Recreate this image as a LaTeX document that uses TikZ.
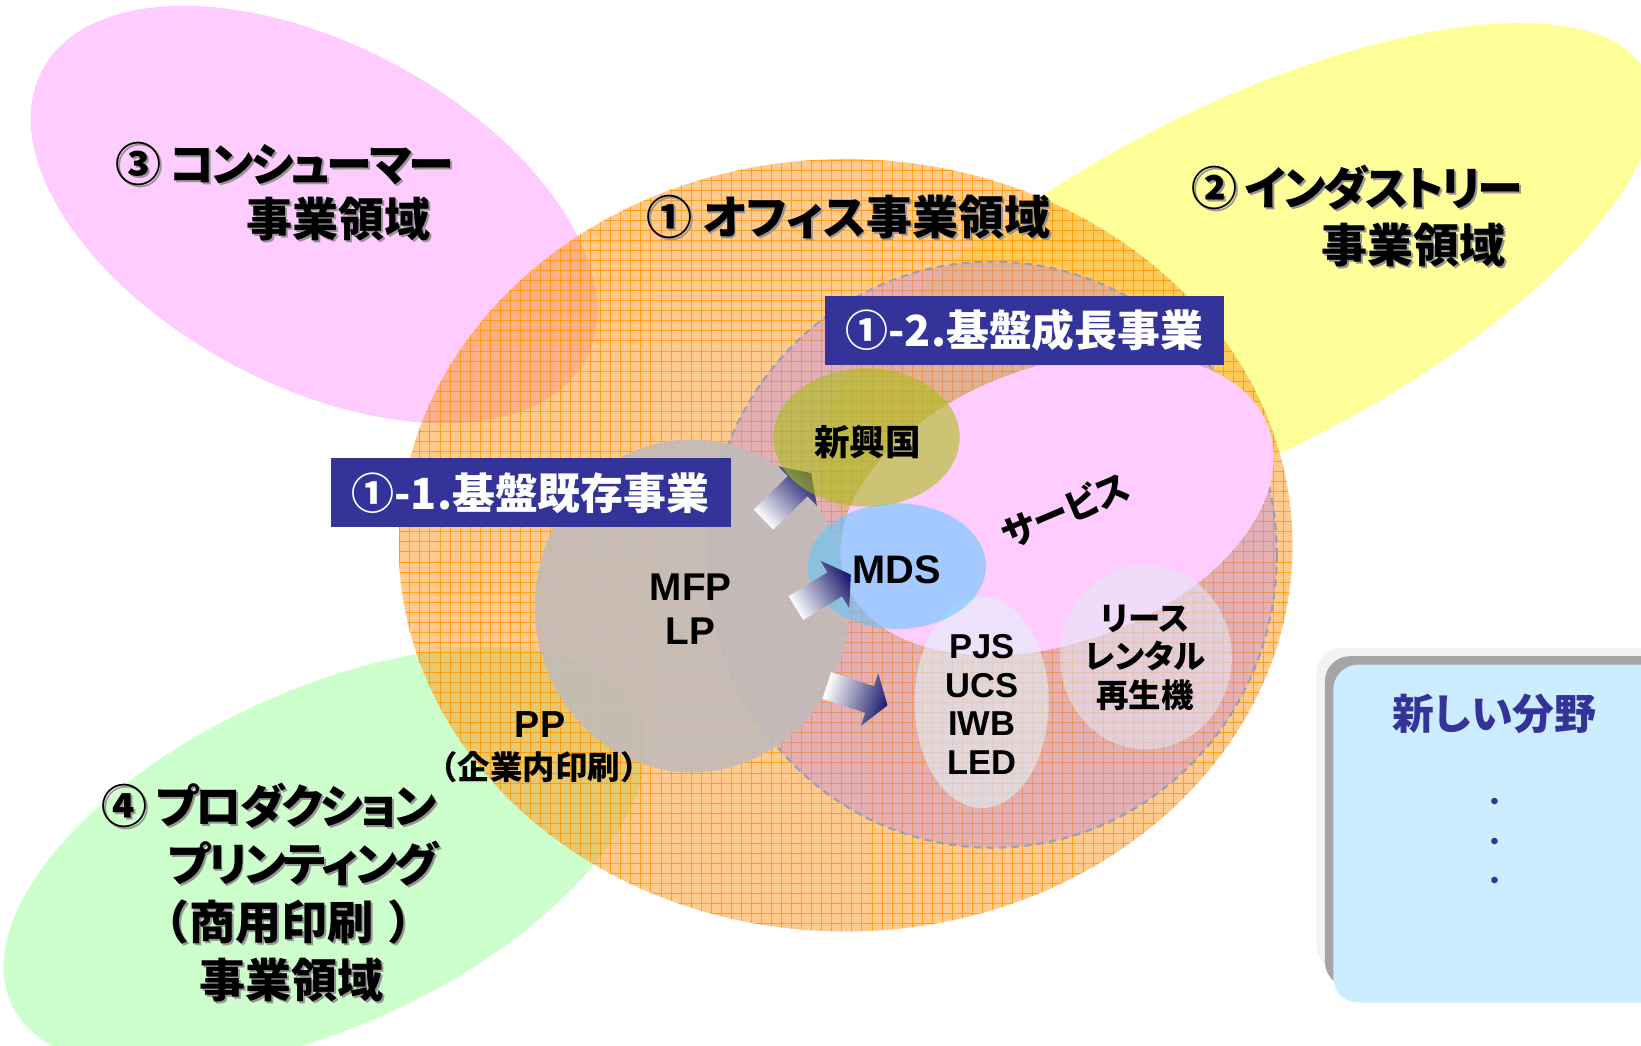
\documentclass[tikz,border=0pt]{standalone}
\usepackage{fontspec}
\setmainfont{Liberation Sans}
\newfontfamily\jp{Noto Sans CJK JP}[RawFeature={+palt}]
\newfontfamily\jpk{Noto Sans CJK JP}[RawFeature={+palt}, LetterSpace=-6]
\newfontfamily\jpn{Noto Sans CJK JP}
\usetikzlibrary{calc}
\definecolor{pinkA}{RGB}{255,204,255}
\definecolor{yellowA}{RGB}{255,255,153}
\definecolor{greenA}{RGB}{204,255,204}
\definecolor{orangeA}{RGB}{255,150,25}
\definecolor{gridOr}{RGB}{255,150,0}
\definecolor{innerPink}{RGB}{180,130,255}
\definecolor{navyA}{RGB}{51,51,153}
\definecolor{grayA}{RGB}{192,188,188}
\definecolor{oliveA}{RGB}{170,190,25}
\definecolor{cyanA}{RGB}{90,200,255}
\definecolor{paleA}{RGB}{225,240,250}
\definecolor{paleB}{RGB}{228,232,245}
\definecolor{dashA}{RGB}{150,160,185}
\definecolor{boxblue}{RGB}{204,236,255}
\definecolor{arrowdark}{RGB}{30,30,110}
\definecolor{shadowA}{RGB}{150,150,150}
\definecolor{shadowB}{RGB}{165,165,165}
\definecolor{shadowC}{RGB}{242,242,242}
\newcommand\shd[1]{\leavevmode\rlap{\kern0.9pt\raisebox{-0.9pt}{\textcolor{shadowA}{#1}}}#1}
\newcommand\fs[2]{\fontsize{#1pt}{#2pt}\selectfont}
\begin{document}
\begin{tikzpicture}[x=0.5pt,y=-0.5pt,
  ttl/.style={font=\jp\bfseries\fs{22}{26}, anchor=west, inner sep=0pt},
  ttlk/.style={font=\jpk\bfseries\fs{22}{26}, anchor=west, inner sep=0pt},
  bbox/.style={fill=navyA, text=white, minimum width=191pt, minimum height=33pt, inner sep=0pt, font=\jp\bfseries\fs{20.5}{24}},
  lbl/.style={inner sep=0pt, align=center},
  gline/.style={gridOr, line width=0.45pt, opacity=0.8},
  blockarrow/.style={bottom color=white, top color=arrowdark}]
\useasboundingbox (0,0) rectangle (1568,999);
\clip (0,0) rectangle (1568,999);
\fill[white] (0,0) rectangle (1568,999);
% outer domains
\fill[pinkA, rotate around={-28:(300,205)}] (300,205) ellipse [x radius=294, y radius=163];
\fill[yellowA, rotate around={27:(1181,270)}] (1181,270) ellipse [x radius=440, y radius=165];
\fill[greenA, rotate around={25:(310,820)}] (310,820) ellipse [x radius=330, y radius=160];
% office domain
\fill[orangeA, fill opacity=0.5] (808,521) ellipse [x radius=427, y radius=369];
\begin{scope}
  \clip (808,521) ellipse [x radius=427, y radius=369];
  \foreach \gx in {382,391.6,...,1236} \draw[gline] (\gx,150) -- (\gx,892);
  \foreach \gy in {153,162.6,...,891} \draw[gline] (380,\gy) -- (1236,\gy);
\end{scope}
% growth region
\fill[innerPink, fill opacity=0.35] (948,530) ellipse [x radius=272, y radius=280];
\draw[dashA, line width=1pt, dash pattern=on 3.5pt off 2.5pt] (948,530) ellipse [x radius=272, y radius=280];
% existing business
\fill[grayA, fill opacity=0.88] (661,579) ellipse [x radius=150, y radius=159];
% service
\fill[pinkA, rotate around={20:(1010,482)}] (1010,482) ellipse [x radius=215, y radius=132];
\fill[paleA, fill opacity=0.6] (938,671) ellipse [x radius=64, y radius=101];
\fill[paleB, fill opacity=0.55] (1095,628) ellipse [x radius=82, y radius=88];
\fill[cyanA, fill opacity=0.55] (857,541) ellipse [x radius=85, y radius=60];
% arrows
\coordinate (ta1) at (729.5,496.5); \coordinate (ha1) at (775,452);
\coordinate (ta2) at (760.5,581);   \coordinate (ha2) at (813,549);
\coordinate (ta3) at (790,655);     \coordinate (ha3) at (848,674);
\coordinate (ba1) at ($(ha1)!9pt!(ta1)$);
\coordinate (ba2) at ($(ha2)!9pt!(ta2)$);
\coordinate (ba3) at ($(ha3)!9pt!(ta3)$);
\foreach \i/\ang in {1/-46,2/-58.5,3/-108}{
  \shade[blockarrow, shading angle=\ang]
    ($(ta\i)!6.7pt!90:(ha\i)$) -- ($(ba\i)!6.7pt!90:(ha\i)$) -- ($(ba\i)!13.25pt!90:(ha\i)$) -- (ha\i)
    -- ($(ba\i)!13.25pt!-90:(ha\i)$) -- ($(ba\i)!6.7pt!-90:(ha\i)$) -- ($(ta\i)!6.7pt!-90:(ha\i)$) -- cycle;
}
% emerging countries
\fill[oliveA, fill opacity=0.6] (828,418) ellipse [x radius=89, y radius=66];
% new field box
\fill[shadowC, rounded corners=12pt] (1258,619) rectangle (1640,927);
\fill[shadowB, rounded corners=12pt] (1266,627) rectangle (1640,943);
\fill[boxblue, rounded corners=12pt] (1274,635) rectangle (1640,958);
% titles
\node[ttlk] (t3a) at (110,158) {\shd{③ コンシューマー}};
\node[ttl] (t3b) at (235,210) {\shd{事業領域}};
\node[ttlk] (t2a) at (1138,180) {\shd{② インダストリー}};
\node[ttl] (t2b) at (1262,235) {\shd{事業領域}};
\node[ttl] (t1) at (617,208) {\shd{① オフィス事業領域}};
\node[ttlk] (t4a) at (97,771) {\shd{④ プロダクション}};
\node[ttlk] (t4b) at (160,826) {\shd{プリンティング}};
\node[ttl] (t4c) at (137,882) {\shd{{\jpn（}商用印刷\hspace{0.3em}{\jpn）}}};
\node[ttl] (t4d) at (190,937) {\shd{事業領域}};
% boxes
\node[bbox] (b11) at (507,471) {①-1.基盤既存事業};
\node[bbox] (b12) at (979,315.5) {①-2.基盤成長事業};
% labels
\node[lbl, font=\bfseries\fs{18.5}{21}] (mfp) at (660,582) {MFP\\LP};
\node[lbl, font=\bfseries\fs{19}{22}] (mds) at (857,544) {MDS};
\node[lbl, font=\bfseries\fs{16.5}{18.35}] (pjs) at (938,673) {PJS\\UCS\\IWB\\LED};
\node[lbl, font=\bfseries\fs{18}{20}] (pp) at (516,692) {PP};
\node[lbl, font=\jpn\bfseries\fs{15.5}{17}] (ppj) at (515,733) {（企業内印刷）};
\node[lbl, font=\jp\bfseries\fs{17}{20}] (shinko) at (829,422) {新興国};
\node[lbl, font=\jp\bfseries\fs{17}{20}, rotate=23] (svc) at (1018,487) {サービス};
\node[lbl, font=\jp\bfseries\fs{15.5}{18.25}] (lease) at (1094,628.5) {リース\\レンタル\\再生機};
\node[lbl, font=\jp\bfseries\fs{20}{24}, text=navyA] (newf) at (1428,682) {新しい分野};
\node[lbl, font=\fs{11.5}{19}, text=navyA] (dots) at (1428,806) {•\\•\\•};
\end{tikzpicture}
\end{document}
